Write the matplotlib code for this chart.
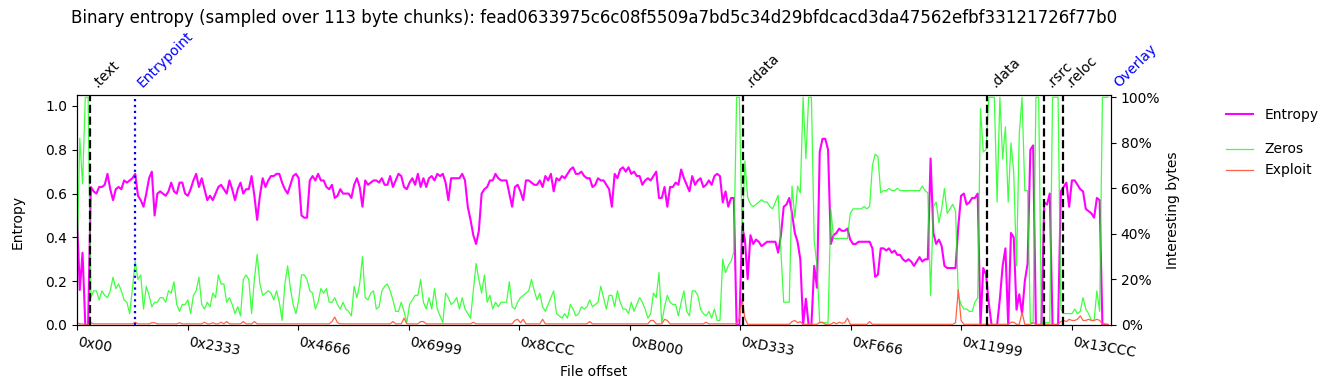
import matplotlib
matplotlib.use("Agg")
import matplotlib.pyplot as plt
import matplotlib.transforms as transforms
from matplotlib.ticker import PercentFormatter

sha256 = "fead0633975c6c08f5509a7bd5c34d29bfdcacd3da47562efbf33121726f77b0"
chunk_size = 113
step = 2 * chunk_size          # one point every two chunks
file_size = 0x14960

# entropy per sample (x100)
entropy = [
    50, 16, 33, 0, 0, 63, 61, 60, 63, 63, 64, 69, 62, 57, 62, 63, 62, 66, 65, 66,
    67, 69, 59, 57, 54, 60, 67, 70, 50, 60, 61, 60, 59, 61, 65, 61, 60, 65, 65, 60,
    59, 62, 66, 69, 63, 67, 62, 57, 59, 57, 60, 63, 64, 62, 60, 66, 62, 57, 62, 65,
    60, 62, 62, 68, 59, 48, 59, 67, 63, 66, 68, 68, 69, 69, 65, 62, 60, 64, 68, 69,
    67, 50, 49, 49, 66, 68, 66, 69, 66, 66, 63, 62, 64, 58, 59, 62, 60, 60, 60, 58,
    64, 67, 63, 54, 66, 64, 65, 66, 66, 65, 67, 64, 64, 68, 63, 66, 69, 68, 63, 62,
    65, 67, 64, 69, 63, 67, 63, 67, 68, 66, 69, 68, 69, 65, 57, 67, 67, 67, 67, 69,
    66, 54, 48, 41, 37, 43, 60, 62, 63, 66, 66, 69, 67, 66, 66, 66, 60, 54, 63, 64,
    61, 57, 66, 66, 65, 64, 64, 66, 63, 68, 66, 69, 61, 67, 66, 68, 67, 69, 71, 72,
    69, 69, 70, 68, 67, 67, 63, 64, 67, 66, 66, 64, 62, 54, 69, 67, 71, 72, 70, 72,
    69, 70, 68, 68, 64, 66, 67, 66, 68, 70, 58, 58, 63, 54, 63, 63, 65, 64, 71, 67,
    64, 61, 68, 64, 66, 67, 63, 64, 66, 64, 68, 69, 68, 56, 61, 54, 58, 58, 0, 0,
    45, 39, 21, 41, 37, 39, 38, 36, 37, 38, 38, 38, 38, 33, 41, 54, 55, 58, 51, 42,
    38, 30, 0, 12, 0, 0, 27, 17, 79, 85, 85, 80, 37, 41, 42, 44, 43, 43, 44, 39,
    37, 37, 38, 38, 38, 38, 38, 35, 22, 23, 35, 35, 34, 35, 33, 34, 32, 32, 30, 29,
    30, 29, 27, 29, 31, 29, 30, 30, 76, 42, 37, 39, 36, 27, 26, 26, 26, 26, 45, 59,
    60, 55, 56, 58, 58, 60, 0, 26, 23, 10, 0, 0, 0, 12, 27, 35, 0, 42, 40, 7,
    14, 5, 20, 28, 80, 82, 0, 0, 0, 56, 55, 60, 0, 0, 0, 61, 63, 65, 54, 66,
    66, 64, 62, 61, 53, 52, 51, 49, 58, 57, 0, 0, 0,
]

# share of zero bytes per sample (%)
zeros = [
    25, 82, 62, 100, 100, 12, 15, 15, 11, 15, 13, 12, 15, 21, 16, 18, 15, 11, 10, 5,
    16, 28, 20, 22, 7, 17, 13, 8, 10, 10, 12, 12, 10, 15, 14, 19, 9, 6, 9, 9,
    11, 5, 13, 15, 21, 9, 7, 10, 8, 14, 12, 22, 18, 18, 10, 12, 9, 5, 8, 4,
    20, 22, 20, 5, 20, 31, 18, 13, 14, 15, 14, 11, 15, 10, 2, 18, 26, 16, 9, 5,
    11, 22, 22, 20, 15, 14, 7, 10, 16, 14, 16, 10, 10, 12, 9, 7, 10, 7, 6, 4,
    17, 12, 18, 30, 12, 11, 14, 15, 7, 8, 15, 17, 18, 15, 11, 6, 6, 10, 6, 1,
    9, 11, 13, 13, 20, 10, 7, 12, 7, 16, 7, 4, 1, 14, 12, 9, 10, 12, 7, 12,
    7, 5, 3, 15, 27, 20, 14, 22, 10, 13, 7, 10, 8, 10, 10, 10, 19, 8, 7, 10,
    12, 13, 14, 15, 20, 15, 11, 14, 8, 6, 9, 12, 15, 5, 4, 3, 5, 3, 9, 7,
    4, 5, 8, 7, 8, 11, 8, 9, 10, 17, 12, 7, 13, 13, 8, 15, 10, 7, 7, 5,
    10, 6, 9, 12, 10, 7, 3, 5, 14, 12, 23, 1, 8, 13, 10, 9, 9, 4, 10, 15,
    6, 4, 15, 15, 13, 7, 5, 4, 6, 3, 7, 2, 2, 29, 23, 26, 28, 32, 100, 100,
    40, 72, 56, 53, 52, 53, 54, 55, 54, 54, 52, 51, 54, 57, 32, 10, 10, 10, 61, 47,
    61, 58, 100, 73, 100, 100, 37, 26, 1, 1, 1, 1, 51, 38, 38, 38, 38, 38, 38, 49,
    51, 51, 51, 51, 52, 51, 52, 70, 75, 74, 58, 59, 59, 60, 59, 59, 60, 59, 59, 59,
    59, 59, 59, 59, 59, 61, 59, 58, 13, 52, 54, 45, 51, 60, 49, 51, 53, 50, 13, 9,
    7, 7, 6, 6, 10, 12, 95, 76, 77, 100, 100, 100, 54, 100, 73, 87, 54, 80, 67, 26,
    84, 100, 59, 59, 1, 1, 100, 100, 1, 1, 1, 1, 100, 100, 100, 7, 5, 5, 5, 5,
    7, 5, 6, 12, 7, 5, 2, 2, 15, 6, 100, 100, 100,
]

# share of exploit-like bytes per sample (%)
exploit = [
    1.0, 0.5, 0.5, 0.0, 0.0, 1.0, 0.5, 0.5, 0.5, 0.5, 0.5, 0.5, 0.5, 0.5, 0.5, 0.5, 0.5, 0.5, 0.5, 0.5,
    0.5, 1.2, 0.5, 0.5, 0.5, 0.5, 0.5, 1.0, 1.0, 0.5, 0.5, 0.5, 0.5, 0.5, 0.5, 0.5, 0.5, 1.0, 0.5, 0.5,
    0.5, 0.5, 0.5, 0.5, 0.5, 0.5, 1.2, 0.5, 0.5, 1.0, 0.5, 0.5, 1.2, 0.5, 1.5, 0.5, 0.5, 0.5, 0.5, 0.5,
    1.5, 0.5, 0.5, 0.5, 1.5, 0.5, 0.5, 0.5, 0.5, 0.5, 0.5, 0.5, 0.5, 0.5, 0.5, 0.5, 0.5, 0.5, 0.5, 0.5,
    0.5, 0.5, 0.5, 0.5, 0.5, 0.5, 0.5, 0.5, 0.5, 0.5, 0.5, 0.5, 1.5, 3.5, 1.0, 0.5, 0.5, 0.5, 0.5, 0.5,
    0.5, 0.5, 0.5, 0.5, 0.5, 0.5, 0.5, 0.5, 0.5, 0.5, 0.5, 0.5, 0.5, 0.5, 1.5, 0.5, 0.5, 0.5, 3.0, 0.5,
    0.5, 0.5, 0.5, 0.5, 1.5, 1.5, 0.5, 0.5, 0.5, 0.5, 0.5, 0.5, 0.5, 0.5, 0.5, 0.5, 0.5, 0.5, 0.5, 0.5,
    0.5, 0.5, 0.5, 1.2, 0.5, 0.5, 0.5, 0.5, 0.5, 0.5, 0.5, 0.5, 0.5, 0.5, 0.5, 0.5, 0.5, 0.5, 2.0, 2.5,
    1.0, 2.5, 0.5, 0.5, 0.5, 0.5, 0.5, 0.5, 2.5, 0.5, 0.5, 0.5, 0.5, 0.5, 0.5, 0.5, 0.5, 0.5, 0.5, 0.5,
    0.5, 0.5, 0.5, 0.5, 0.5, 1.5, 0.5, 0.5, 0.5, 0.5, 0.5, 0.5, 0.5, 0.5, 0.5, 0.5, 0.5, 0.5, 0.5, 0.5,
    0.5, 0.5, 0.5, 0.5, 0.5, 0.5, 0.5, 2.0, 2.0, 0.5, 0.5, 0.5, 2.5, 2.0, 0.5, 0.5, 0.5, 0.5, 0.5, 0.5,
    0.5, 0.5, 0.5, 0.5, 0.5, 0.5, 0.5, 1.2, 0.5, 0.5, 0.5, 0.5, 0.5, 0.5, 0.5, 0.5, 0.5, 0.5, 0.5, 3.0,
    11.5, 3.0, 0.3, 0.3, 0.3, 0.3, 0.3, 0.3, 0.3, 0.3, 0.3, 0.3, 0.3, 0.3, 0.3, 0.3, 0.3, 0.3, 1.5, 2.0,
    1.0, 1.5, 0.3, 0.3, 0.3, 0.3, 0.3, 0.3, 1.2, 1.2, 0.3, 0.3, 0.3, 1.2, 0.5, 1.2, 0.8, 1.0, 3.0, 0.3,
    0.3, 0.3, 0.3, 0.3, 0.3, 0.3, 1.5, 0.3, 0.3, 0.3, 0.3, 0.3, 0.3, 0.3, 0.3, 0.3, 0.3, 0.3, 0.3, 0.3,
    0.3, 0.3, 0.3, 0.3, 0.3, 0.3, 0.3, 0.3, 0.3, 0.3, 0.3, 0.3, 0.3, 0.3, 0.3, 0.3, 0.3, 1.0, 15.5, 2.0,
    0.3, 0.3, 0.3, 0.3, 0.3, 0.3, 0.3, 0.3, 0.3, 0.3, 0.3, 0.3, 0.3, 0.3, 0.3, 0.3, 0.3, 1.2, 1.2, 0.3,
    0.3, 5.5, 0.3, 0.3, 0.3, 1.0, 0.3, 0.3, 0.3, 0.3, 0.3, 0.3, 0.3, 0.3, 0.3, 1.5, 2.0, 1.5, 2.5, 2.0,
    2.0, 2.5, 4.0, 2.0, 2.0, 2.5, 2.0, 2.0, 2.5, 2.0, 0.5, 0.5, 0.3,
]

section_names = [".text", ".rdata", ".data", ".rsrc", ".reloc"]
section_offsets = [0x400, 0xD400, 0x12200, 0x13400, 0x13A00]
entrypoint = 0x1260
overlay = file_size

xtick_labels = ["0x00", "0x2333", "0x4666", "0x6999", "0x8CCC",
                "0xB000", "0xD333", "0xF666", "0x11999", "0x13CCC"]

offsets = [i * step for i in range(len(entropy))]

fig = plt.figure(figsize=(13.35, 3.9), dpi=100)
ax = fig.add_axes([77 / 1335, 65 / 390, 1034 / 1335, 230 / 390])
ax2 = ax.twinx()

l_ent, = ax.plot(offsets, [v / 100 for v in entropy], color="magenta", lw=1.5, label="Entropy")
l_zero, = ax2.plot(offsets, [v / 100 for v in zeros], color="lime", alpha=0.75, lw=0.9, label="Zeros")
l_expl, = ax2.plot(offsets, [v / 100 for v in exploit], color="tomato", lw=0.9, label="Exploit")

ax.set_xlim(0, file_size)
ax.set_ylim(0, 1.05)
ax2.set_ylim(0, 1.01)
ax2.yaxis.set_major_formatter(PercentFormatter(1.0, decimals=0))

ax.set_xticks([int(s, 16) for s in xtick_labels])
ax.set_xticklabels(xtick_labels, rotation=-10, ha="left")

ax.set_ylabel("Entropy")
ax.yaxis.set_label_coords(-0.051, 0.45)
ax2.set_ylabel("Interesting bytes")
ax2.yaxis.set_label_coords(1.053, 0.5)
ax.set_xlabel("File offset")
ax.xaxis.set_label_coords(0.5, -0.175)

# section markers
trans = transforms.blended_transform_factory(ax.transData, ax.transAxes)
for name, off in zip(section_names, section_offsets):
    ax2.axvline(off, color="black", ls="--", lw=1.6)
    ax.text(off, 1.02, name, rotation=45, ha="left", va="bottom", transform=trans, fontsize=10)

ax2.axvline(entrypoint, color="blue", ls=":", lw=1.6)
ax.text(entrypoint, 1.02, "Entrypoint", rotation=45, ha="left", va="bottom",
        transform=trans, color="blue", fontsize=10)
# overlay starts at the very end, its line sits under the right spine
ax.text(overlay, 1.02, "Overlay", rotation=45, ha="left", va="bottom",
        transform=trans, color="blue", fontsize=10, clip_on=False)

fig.text(594 / 1335, 1 - 18 / 390,
         "Binary entropy (sampled over %d byte chunks): %s" % (chunk_size, sha256),
         ha="center", va="center", fontsize=12)

fig.legend([l_ent], ["Entropy"], loc="upper left", bbox_to_anchor=(1213 / 1335, 1 - 95 / 390),
           frameon=False)
fig.legend([l_zero, l_expl], ["Zeros", "Exploit"], loc="upper left",
           bbox_to_anchor=(1213 / 1335, 1 - 130 / 390), frameon=False)

plt.savefig("out.png", dpi=100)
